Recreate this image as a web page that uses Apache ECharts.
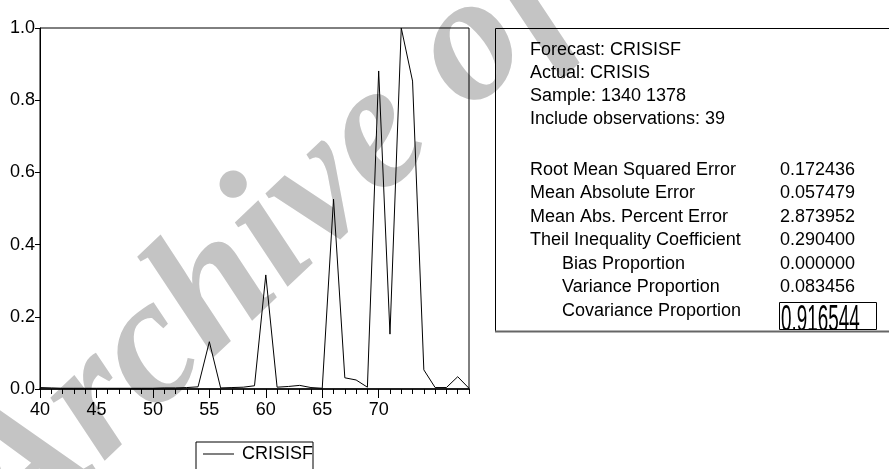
<!DOCTYPE html>
<html>
<head>
<meta charset="utf-8">
<script src="https://cdn.jsdelivr.net/npm/echarts@6/dist/echarts.min.js"></script>
<style>
  html, body { margin: 0; padding: 0; background: #fff; }
  #chart { width: 889px; height: 469px; background: #fff; }
</style>
</head>
<body>
<div id="chart"></div>
<script>
// observations 1340..1378, shown as 40..78
var years = [40,41,42,43,44,45,46,47,48,49,50,51,52,53,54,55,56,57,58,59,
             60,61,62,63,64,65,66,67,68,69,70,71,72,73,74,75,76,77,78];
var crisisf = [0.004,0.003,0.002,0.002,0.002,0.002,0.002,0.002,0.002,0.002,
               0.002,0.003,0.003,0.004,0.006,0.131,0.003,0.004,0.005,0.009,
               0.316,0.005,0.007,0.010,0.004,0.002,0.526,0.031,0.025,0.005,
               0.881,0.152,1.000,0.853,0.053,0.004,0.004,0.034,0.002];
var majorTicks = [40,45,50,55,60,65,70,75];

var headerLines = ['Forecast: CRISISF', 'Actual: CRISIS', 'Sample: 1340 1378', 'Include observations: 39'];
var statNames = ['Root Mean Squared Error', 'Mean Absolute Error', 'Mean Abs. Percent Error',
                 'Theil Inequality Coefficient', 'Bias Proportion', 'Variance Proportion', 'Covariance Proportion'];
var statValues = ['0.172436', '0.057479', '2.873952', '0.290400', '0.000000', '0.083456', '0.916544'];
var statIndent = [false, false, false, false, true, true, true];

var FONT = 'Arial, "Liberation Sans", sans-serif';
var myChart = echarts.init(document.getElementById('chart'));

var points = [];
for (var i = 0; i < years.length; i++) {
  points.push([years[i], crisisf[i]]);
}

var graphics = [];
// grey watermark, kept under everything else
graphics.push({
  type: 'text', zlevel: -1, z: 0, x: -80, y: 447, rotation: 0.76, silent: true,
  style: { text: 'Archive of SID', font: 'bold italic 181px "Liberation Serif", serif', fill: '#c4c4c4' }
});
// stats panel on the right
graphics.push({
  type: 'rect', z: 10, shape: { x: 495.5, y: 28.5, width: 420, height: 303 },
  style: { fill: 'none', stroke: '#000', lineWidth: 1 }
});
for (var h = 0; h < headerLines.length; h++) {
  graphics.push({
    type: 'text', z: 10, x: 530, y: 50 + h * 23,
    style: { text: headerLines[h], font: '18px ' + FONT, fill: '#000', verticalAlign: 'middle' }
  });
}
for (var s = 0; s < statNames.length; s++) {
  var ty = 170 + s * 23.5;
  graphics.push({
    type: 'text', z: 10, x: statIndent[s] ? 562 : 530, y: ty,
    style: { text: statNames[s], font: '18px ' + FONT, fill: '#000', verticalAlign: 'middle' }
  });
  if (s < statNames.length - 1) {
    graphics.push({
      type: 'text', z: 10, x: 780, y: ty,
      style: { text: statValues[s], font: '18px ' + FONT, fill: '#000', verticalAlign: 'middle' }
    });
  }
}
// last value is squeezed into a little box and cut off at the bottom
graphics.push({
  type: 'text', z: 10, x: 781, y: 303, scaleX: 1.05, scaleY: 2.0,
  style: { text: statValues[statValues.length - 1], x: 0, y: 0, font: '18px ' + FONT, fill: '#000', verticalAlign: 'top' }
});
graphics.push({
  type: 'rect', z: 11, shape: { x: 776, y: 329, width: 104, height: 20 },
  style: { fill: '#fff', stroke: 'none' }
});
graphics.push({
  type: 'rect', z: 12, shape: { x: 779.5, y: 302.5, width: 97, height: 27 },
  style: { fill: 'none', stroke: '#000', lineWidth: 1 }
});
graphics.push({
  type: 'line', z: 12, shape: { x1: 495, y1: 331.5, x2: 889, y2: 331.5 },
  style: { stroke: '#666', lineWidth: 2 }
});

var option = {
  animation: false,
  grid: {
    left: 40, right: 420, top: 28, bottom: 80,
    show: true, borderColor: '#000', borderWidth: 1
  },
  legend: {
    left: 196, top: 442,
    borderColor: '#000', borderWidth: 1,
    padding: [2, 0, 20, 7],
    icon: 'rect',
    itemWidth: 31, itemHeight: 1,
    itemStyle: { color: '#000' },
    textStyle: { fontSize: 18, fontFamily: FONT, color: '#000', padding: [0, 0, 0, 3], lineHeight: 20 },
    data: ['CRISISF']
  },
  xAxis: [
    {
      type: 'value', min: 40, max: 78, interval: 1, position: 'bottom',
      axisLine: { show: true, onZero: false, lineStyle: { color: '#000', width: 1.5 } },
      axisTick: { show: true, length: 5, customValues: years, lineStyle: { color: '#000' } },
      axisLabel: { show: false },
      splitLine: { show: false }
    },
    {
      type: 'value', min: 40, max: 78, interval: 5, position: 'bottom',
      axisLine: { show: false },
      axisTick: { show: true, length: 9, customValues: majorTicks, lineStyle: { color: '#000' } },
      axisLabel: {
        customValues: majorTicks, showMaxLabel: false,
        fontSize: 18, fontFamily: FONT, color: '#000', margin: 12
      },
      splitLine: { show: false }
    }
  ],
  yAxis: {
    type: 'value', min: 0, max: 1, interval: 0.2,
    axisLine: { show: true, lineStyle: { color: '#000' } },
    axisTick: { show: true, length: 5, lineStyle: { color: '#000' } },
    axisLabel: {
      fontSize: 18, fontFamily: FONT, color: '#000', margin: 5,
      padding: [0, 0, 8, 0],
      formatter: function (v) { return v.toFixed(1); }
    },
    splitLine: { show: false }
  },
  series: [
    {
      name: 'CRISISF',
      type: 'line',
      xAxisIndex: 0,
      data: points,
      symbol: 'none',
      color: '#000',
      lineStyle: { color: '#000', width: 1 }
    }
  ],
  graphic: graphics
};

myChart.setOption(option);
</script>
</body>
</html>
